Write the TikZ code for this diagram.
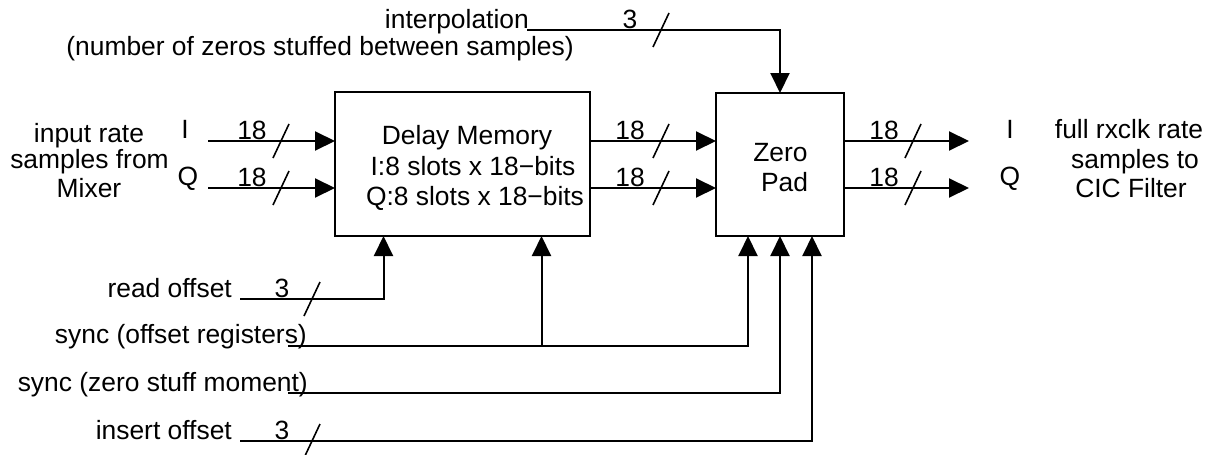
\documentclass[tikz,border=0pt]{standalone}
\usepackage{fontspec}
\setmainfont{Liberation Sans}
\usetikzlibrary{arrows.meta,calc}
\begin{document}
\begin{tikzpicture}[x=1pt,y=-1pt, font=\fontsize{26.4}{29}\selectfont,
  wire/.style={line width=2pt},
  arr/.style={wire,-{Triangle[length=20pt,width=19pt]}},
  blk/.style={draw,line width=2pt,inner sep=0pt,outer sep=0pt},
  lbl/.style={inner sep=0pt,anchor=base},
  lble/.style={inner sep=0pt,anchor=base east},
  bus/.pic={\draw[line width=1.6pt] (-8,17) -- (8,-17);}]
\useasboundingbox (0,0) rectangle (1213,455);

% blocks
\node[blk,minimum width=255pt,minimum height=144pt] (dm) at (462.5,164) {};
\node[blk,minimum width=128pt,minimum height=143pt] (zp) at (780,164.5) {};
\node[lbl] (dm1) at (467,144) {Delay Memory};
\node[lbl] (dm2) at (473,175) {I:8 slots x 18−bits};
\node[lbl] (dm3) at (475,205) {Q:8 slots x 18−bits};
\node[lbl] (zp1) at (780.5,161) {Zero};
\node[lbl] (zp2) at (784.5,191) {Pad};

% inputs
\coordinate (iI) at (208,141);
\coordinate (iQ) at (208,188);
\draw[arr] (iI) -- (iI -| dm.west);
\draw[arr] (iQ) -- (iQ -| dm.west);
\pic at (281,141) {bus};
\pic at (281,188) {bus};
\node[lbl] (n18a) at (252,139) {18};
\node[lbl] (n18b) at (252,186) {18};
\node[lbl] (lI) at (185,138) {I};
\node[lbl] (lQ) at (188,185) {Q};
\node[lbl] (in1) at (89,142) {input rate};
\node[lbl] (in2) at (89.5,168) {samples from};
\node[lbl] (in3) at (89,197) {Mixer};

% middle
\draw[arr] (dm.east |- iI) -- (zp.west |- iI);
\draw[arr] (dm.east |- iQ) -- (zp.west |- iQ);
\pic at (661,141) {bus};
\pic at (661,188) {bus};
\node[lbl] (n18c) at (630,139) {18};
\node[lbl] (n18d) at (630,186) {18};

% outputs
\coordinate (oI) at (969,141);
\coordinate (oQ) at (969,188);
\draw[arr] (zp.east |- oI) -- (oI);
\draw[arr] (zp.east |- oQ) -- (oQ);
\pic at (913,141) {bus};
\pic at (913,188) {bus};
\node[lbl] (n18e) at (884,139) {18};
\node[lbl] (n18f) at (884,186) {18};
\node[lbl] (rI) at (1010,138) {I};
\node[lbl] (rQ) at (1010,185) {Q};
\node[lbl] (out1) at (1129,138) {full rxclk rate};
\node[lbl] (out2) at (1135,168) {samples to};
\node[lbl] (out3) at (1131,197) {CIC Filter};

% top
\coordinate (itp) at (527,30);
\draw[arr] (itp) -| (zp.north);
\pic at (661,30) {bus};
\node[lbl] (n3t) at (630,28) {3};
\node[lble] (itxt) at (529,28) {interpolation};
\node[lbl] (ntxt) at (320,55) {(number of zeros stuffed between samples)};

% bottom
\coordinate (dmr) at ($(dm.south)+(-79,0)$);
\coordinate (dms) at ($(dm.south)+(79,0)$);
\coordinate (zpa) at ($(zp.south)+(-32,0)$);
\coordinate (zpc) at ($(zp.south)+(32,0)$);

\coordinate (ro) at (240,299);
\draw[arr] (ro) -| (dmr);
\pic at (312,299) {bus};
\node[lbl] (n3r) at (282,297) {3};
\node[lble] (rotxt) at (232,297) {read offset};

\coordinate (s1) at (288,346);
\draw[arr] (s1) -| (zpa);
\draw[arr] (s1 -| dms) -- (dms);
\node[lble] (s1txt) at (307,343) {sync (offset registers)};

\coordinate (s2) at (288,393);
\draw[arr] (s2) -| (zp.south);
\node[lble] (s2txt) at (308,391) {sync (zero stuff moment)};

\coordinate (io) at (240,441);
\draw[arr] (io) -| (zpc);
\pic at (312,441) {bus};
\node[lbl] (n3i) at (282,439) {3};
\node[lble] (iotxt) at (232,439) {insert offset};
\end{tikzpicture}
\end{document}
